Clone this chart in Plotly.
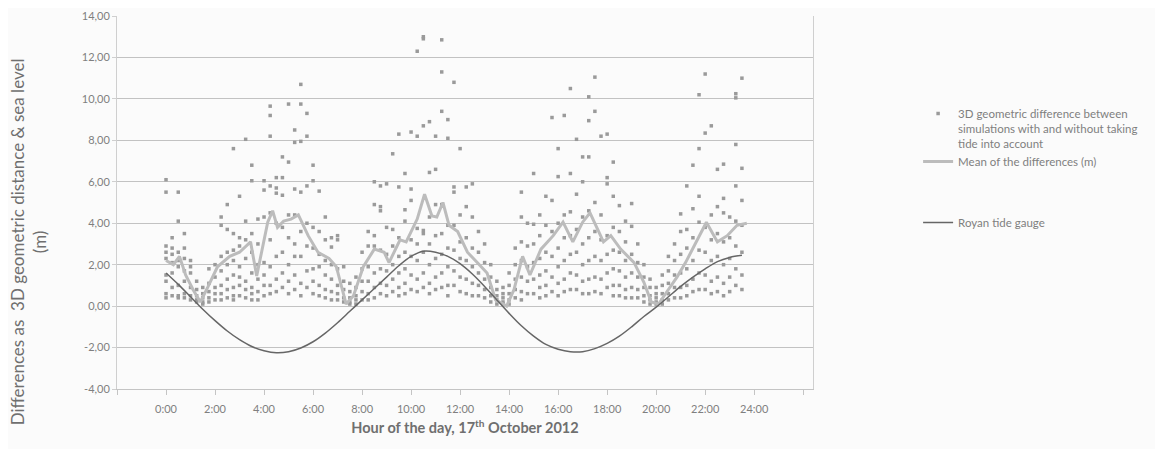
"""Tide effect on simulated positions: scatter of differences, mean, tide gauge."""

import plotly.graph_objects as go

# hours of the day for each column of scatter points
dot_hours = [
    0.0, 0.25, 0.5, 0.75, 1.0, 1.25, 1.5, 1.75, 2.0, 2.25, 2.5, 2.75,
    3.0, 3.25, 3.5, 3.75, 4.0, 4.25, 4.5, 4.75, 5.0, 5.25, 5.5, 5.75,
    6.0, 6.25, 6.5, 6.75, 7.0, 7.25, 7.5, 7.75, 8.0, 8.25, 8.5, 8.75,
    9.0, 9.25, 9.5, 9.75, 10.0, 10.25, 10.5, 10.75, 11.0, 11.25, 11.5, 11.75,
    12.0, 12.25, 12.5, 12.75, 13.0, 13.25, 13.5, 13.75, 14.0, 14.25, 14.5, 14.75,
    15.0, 15.25, 15.5, 15.75, 16.0, 16.25, 16.5, 16.75, 17.0, 17.25, 17.5, 17.75,
    18.0, 18.25, 18.5, 18.75, 19.0, 19.25, 19.5, 19.75, 20.0, 20.25, 20.5, 20.75,
    21.0, 21.25, 21.5, 21.75, 22.0, 22.25, 22.5, 22.75, 23.0, 23.25, 23.5,
]

# 3D geometric differences (m), one list per column above
dot_values = [
    [6.1, 5.5, 2.9, 2.6, 2.3, 1.5, 1.2, 0.6, 0.4],
    [3.3, 2.8, 2.5, 2.1, 1.6, 0.9, 0.5],
    [5.5, 4.1, 2.6, 2.2, 1.9, 1.0, 0.5, 0.4],
    [3.5, 2.8, 2.3, 1.7, 1.2, 0.6, 0.4],
    [2.2, 1.9, 1.6, 0.9, 0.5, 0.3],
    [1.2, 0.8, 0.5, 0.3, 0.2],
    [0.9, 0.6, 0.4, 0.2, 0.1],
    [1.8, 1.1, 0.7, 0.4, 0.2],
    [2.0, 1.4, 0.9, 0.6, 0.3],
    [4.3, 3.9, 2.4, 1.7, 1.0, 0.6, 0.3],
    [4.9, 3.7, 2.6, 2.0, 1.3, 0.8, 0.4],
    [7.6, 3.5, 2.7, 2.2, 1.5, 0.9, 0.5, 0.3],
    [5.3, 3.3, 2.9, 1.9, 1.4, 1.0, 0.5],
    [8.05, 4.1, 3.2, 2.3, 1.2, 0.8, 0.4],
    [6.8, 6.05, 3.5, 2.6, 1.6, 0.9, 0.6, 0.3],
    [4.2, 3.0, 2.0, 1.3, 0.7, 0.3],
    [6.05, 5.6, 4.3, 2.1, 1.5, 1.0, 0.5],
    [9.65, 9.2, 8.2, 5.8, 4.5, 3.2, 1.9, 1.0, 0.6],
    [6.2, 5.7, 5.45, 4.0, 2.4, 1.3, 0.7],
    [7.2, 6.2, 5.35, 3.8, 2.6, 1.6, 0.9],
    [9.75, 6.95, 4.4, 3.3, 2.0, 1.2, 0.6],
    [8.5, 7.9, 5.65, 4.4, 3.0, 2.4, 1.5, 0.8],
    [10.7, 9.75, 7.95, 5.5, 3.6, 2.4, 1.1, 0.5],
    [9.3, 8.2, 5.8, 4.0, 2.9, 1.7, 0.9],
    [6.8, 6.05, 3.8, 2.8, 1.8, 1.2, 0.6],
    [5.55, 3.6, 2.5, 1.9, 1.0, 0.5],
    [4.3, 3.2, 2.2, 1.5, 0.8, 0.4],
    [3.3, 2.85, 2.0, 1.3, 0.7, 0.3],
    [3.4, 3.2, 1.8, 1.0, 0.6, 0.3],
    [1.9, 1.2, 0.8, 0.4, 0.2],
    [1.1, 0.7, 0.4, 0.2, 0.1],
    [1.4, 0.9, 0.5, 0.3, 0.1],
    [2.6, 1.8, 1.2, 0.7, 0.3],
    [3.6, 2.9, 1.9, 1.2, 0.6, 0.3],
    [6.0, 4.9, 3.4, 2.9, 1.6, 0.9, 0.4],
    [5.8, 4.8, 4.6, 2.7, 1.8, 1.1, 0.6],
    [5.9, 3.8, 2.5, 1.7, 1.0, 0.5],
    [7.35, 3.7, 2.9, 2.0, 1.3, 0.7],
    [8.3, 5.75, 3.3, 2.4, 1.6, 0.9, 0.5],
    [6.4, 4.65, 4.1, 2.6, 1.8, 1.1, 0.6],
    [8.4, 5.65, 5.1, 3.2, 2.4, 1.5, 0.8],
    [12.3, 8.2, 3.75, 3.0, 2.2, 1.3, 0.7],
    [13.0, 12.9, 8.7, 3.65, 3.5, 2.6, 1.6, 0.9],
    [8.9, 6.45, 4.3, 3.0, 2.0, 1.1, 0.6],
    [8.2, 6.6, 4.9, 3.4, 2.3, 1.4, 0.8],
    [12.85, 11.3, 9.4, 4.9, 3.5, 2.5, 1.6, 0.9],
    [9.0, 8.1, 3.9, 2.8, 1.9, 1.0, 0.5],
    [10.8, 5.75, 5.5, 3.9, 2.7, 1.7, 1.0],
    [7.6, 4.4, 3.1, 2.3, 1.4, 0.7],
    [5.75, 4.8, 3.3, 2.2, 1.3, 0.6],
    [5.9, 4.3, 2.8, 1.9, 1.1, 0.5],
    [3.6, 2.6, 1.6, 1.0, 0.5],
    [3.0, 2.1, 1.3, 0.8, 0.4],
    [2.0, 1.4, 0.9, 0.5, 0.2],
    [1.2, 0.8, 0.5, 0.3, 0.1],
    [0.9, 0.6, 0.4, 0.2, 0.1],
    [1.6, 1.0, 0.6, 0.3, 0.1],
    [2.8, 2.0, 1.3, 0.8, 0.4],
    [5.5, 4.3, 3.1, 2.2, 1.4, 0.7, 0.3],
    [4.0, 2.9, 1.9, 1.2, 0.6],
    [6.4, 3.95, 3.0, 2.1, 1.3, 0.6],
    [4.4, 3.4, 2.3, 1.5, 0.9, 0.4],
    [5.3, 3.9, 2.6, 1.7, 1.0, 0.5],
    [9.1, 5.1, 3.6, 2.4, 1.4, 0.7],
    [7.6, 6.25, 4.0, 2.8, 1.9, 1.1, 0.5],
    [9.2, 4.4, 3.3, 2.2, 1.3, 0.7],
    [10.5, 6.4, 4.55, 3.4, 2.5, 1.6, 0.8],
    [8.05, 5.4, 3.7, 2.6, 1.5, 0.8],
    [7.2, 6.0, 4.3, 3.0, 2.0, 1.2, 0.6],
    [10.1, 8.95, 7.2, 4.6, 3.3, 2.2, 1.3, 0.6],
    [11.05, 9.4, 5.0, 3.6, 2.4, 1.4, 0.7],
    [8.2, 4.4, 3.2, 2.2, 1.3, 0.6],
    [8.3, 6.2, 5.9, 3.4, 2.5, 1.6, 0.9],
    [6.95, 5.3, 3.8, 2.7, 1.8, 1.0, 0.5],
    [4.85, 3.6, 2.6, 1.7, 1.0, 0.5],
    [4.1, 3.1, 2.2, 1.4, 0.8, 0.4],
    [4.95, 3.85, 2.5, 1.6, 0.9, 0.4],
    [3.0, 2.1, 1.4, 0.8, 0.4],
    [2.0, 1.4, 0.9, 0.5, 0.2],
    [1.3, 0.9, 0.5, 0.3, 0.1],
    [0.9, 0.6, 0.4, 0.2, 0.1],
    [1.5, 1.0, 0.6, 0.3, 0.1],
    [2.4, 1.7, 1.1, 0.6, 0.3],
    [3.0, 2.2, 1.5, 0.9, 0.4],
    [4.45, 3.6, 2.5, 1.6, 0.9, 0.4],
    [5.8, 3.7, 2.8, 1.8, 1.0, 0.5],
    [6.8, 4.7, 3.3, 2.2, 1.3, 0.7],
    [10.2, 7.6, 5.3, 4.05, 2.7, 1.6, 0.8],
    [11.2, 8.35, 3.8, 2.6, 1.5, 0.8],
    [8.7, 4.4, 3.2, 2.2, 1.2, 0.6],
    [6.6, 4.8, 3.5, 2.4, 1.4, 0.7],
    [6.85, 5.2, 4.5, 3.1, 2.0, 1.1, 0.5],
    [4.3, 3.3, 2.3, 1.4, 0.7],
    [10.25, 10.05, 7.8, 5.8, 4.1, 2.9, 1.8, 1.0],
    [11.0, 6.65, 5.1, 3.9, 2.6, 1.5, 0.8],
]

# mean of the differences (m)
mean_hours = [
    0.0, 0.3, 0.55, 0.8, 1.1, 1.4, 1.7, 2.1, 2.6, 3.0, 3.45, 3.7, 4.15, 4.35,
    4.55, 4.8, 5.1, 5.4, 5.8, 6.2, 6.65, 6.95, 7.35, 7.65, 8.05, 8.5, 8.9,
    9.1, 9.55, 9.8, 10.25, 10.55, 10.85, 11.05, 11.3, 11.55, 11.9, 12.3,
    12.7, 13.1, 13.45, 13.9, 14.2, 14.55, 14.85, 15.3, 15.8, 16.2, 16.6,
    17.0, 17.3, 17.55, 17.85, 18.15, 18.55, 19.1, 19.5, 19.8, 20.1, 20.5,
    20.85, 21.2, 21.65, 22.05, 22.5, 22.9, 23.3, 23.7,
]
mean_values = [
    2.2, 2.0, 2.4, 1.5, 0.8, 0.2, 0.9, 1.9, 2.4, 2.6, 3.1, 1.45, 4.05, 4.6,
    3.8, 4.1, 4.2, 4.4, 3.4, 2.6, 2.3, 1.9, 0.1, 0.5, 1.9, 2.75, 2.6,
    2.1, 3.2, 3.1, 4.2, 5.4, 4.35, 4.3, 5.0, 3.9, 3.6, 2.6,
    2.1, 1.6, 0.3, 0.0, 0.8, 2.4, 1.5, 2.75, 3.4, 4.05, 3.1,
    4.05, 4.5, 3.9, 3.1, 3.4, 2.75, 2.1, 1.15, 0.2, 0.1, 0.8,
    1.4, 2.1, 3.1, 4.05, 3.1, 3.4, 3.9, 4.0,
]

# Royan tide gauge (m)
tide_hours = [
    0.0, 0.5, 1.0, 1.5, 2.0, 2.5, 3.0, 3.5, 4.0, 4.5, 5.0, 5.5,
    6.0, 6.5, 7.0, 7.5, 8.0, 8.5, 9.0, 9.5, 10.0, 10.5, 11.0, 11.5,
    12.0, 12.5, 13.0, 13.5, 14.0, 14.5, 15.0, 15.5, 16.0, 16.5, 17.0, 17.5,
    18.0, 18.5, 19.0, 19.5, 20.0, 20.5, 21.0, 21.5, 22.0, 22.5, 23.0, 23.5,
]
tide_values = [
    1.60, 1.05, 0.45, -0.15, -0.70, -1.20, -1.62, -1.95, -2.15, -2.25, -2.20, -2.02,
    -1.72, -1.30, -0.80, -0.25, 0.30, 0.85, 1.40, 1.95, 2.40, 2.65, 2.60, 2.40,
    2.05, 1.55, 0.95, 0.30, -0.35, -0.95, -1.45, -1.85, -2.08, -2.20, -2.20, -2.05,
    -1.80, -1.45, -1.00, -0.50, -0.05, 0.45, 0.95, 1.40, 1.80, 2.15, 2.35, 2.45,
]

x_ticks = [-2, 0, 2, 4, 6, 8, 10, 12, 14, 16, 18, 20, 22, 24, 26]
x_labels = ["", "0:00", "2:00", "4:00", "6:00", "8:00", "10:00", "12:00",
            "14:00", "16:00", "18:00", "20:00", "22:00", "24:00", ""]
y_ticks = [-4, -2, 0, 2, 4, 6, 8, 10, 12, 14]
y_labels = ["-4,00", "-2,00", "0,00", "2,00", "4,00", "6,00", "8,00",
            "10,00", "12,00", "14,00"]

FONT = "Lato, 'Open Sans', sans-serif"
TEXT = "#7f7f7f"

dot_x: list[float] = []
dot_y: list[float] = []
for h, vals in zip(dot_hours, dot_values):
    dot_x.extend([h] * len(vals))
    dot_y.extend(vals)

fig = go.Figure()
fig.add_trace(
    go.Scatter(
        x=dot_x,
        y=dot_y,
        mode="markers",
        name="3D geometric difference between<br>simulations with and without taking<br>tide into account",
        marker=dict(symbol="square", size=3.5, color="#9a9a9a"),
        legendgroup="a",
    )
)
fig.add_trace(
    go.Scatter(
        x=mean_hours,
        y=mean_values,
        mode="lines",
        name="Mean of the differences (m)",
        line=dict(color="#bcbcbc", width=3),
        legendgroup="a",
    )
)
fig.add_trace(
    go.Scatter(
        x=tide_hours,
        y=tide_values,
        mode="lines",
        name="Royan tide gauge",
        line=dict(color="#666666", width=1.5, shape="spline"),
        legendgroup="b",
    )
)

# page body adds an 8px offset, so the figure is a bit smaller than the window
fig.update_layout(
    width=1155,
    height=441,
    margin=dict(l=109, r=350, t=8, b=60, autoexpand=False),
    paper_bgcolor="#fbfbfb",
    plot_bgcolor="#fbfbfb",
    font=dict(family=FONT, color=TEXT, size=11),
    showlegend=True,
    legend=dict(
        x=1.151,
        y=0.776,
        xanchor="left",
        yanchor="top",
        bgcolor="rgba(0,0,0,0)",
        font=dict(size=11.5, color=TEXT),
        traceorder="grouped",
        tracegroupgap=42,
        valign="top",
        itemwidth=30,
    ),
    xaxis=dict(
        range=[-2, 26.4],
        tickvals=x_ticks,
        ticktext=x_labels,
        showgrid=False,
        zeroline=False,
        showline=True,
        linecolor="#c4c4c4",
        ticks="outside",
        ticklen=5,
        tickcolor="#c4c4c4",
        ticklabelstandoff=5,
        tickfont=dict(size=11, color=TEXT),
        title=dict(
            text="<b>Hour of the day, 17<sup>th</sup> October 2012</b>",
            font=dict(size=14.5, color="#6f6f6f"),
            standoff=8,
        ),
    ),
    yaxis=dict(
        range=[-4, 14],
        tickvals=y_ticks,
        ticktext=y_labels,
        showgrid=True,
        gridcolor="#c2c2c2",
        gridwidth=1.3,
        zeroline=False,
        showline=True,
        mirror=True,
        linecolor="#cfcfcf",
        ticks="outside",
        ticklen=4,
        tickcolor="#cfcfcf",
        tickfont=dict(size=11, color=TEXT),
    ),
    annotations=[
        dict(
            text="Differences as  3D geometric distance &amp; sea level<br>(m)",
            xref="paper",
            yref="paper",
            x=-0.127,
            y=0.395,
            xanchor="center",
            yanchor="middle",
            textangle=-90,
            showarrow=False,
            font=dict(size=17, color="#6f6f6f"),
        )
    ],
)

fig.write_html("out.html")
